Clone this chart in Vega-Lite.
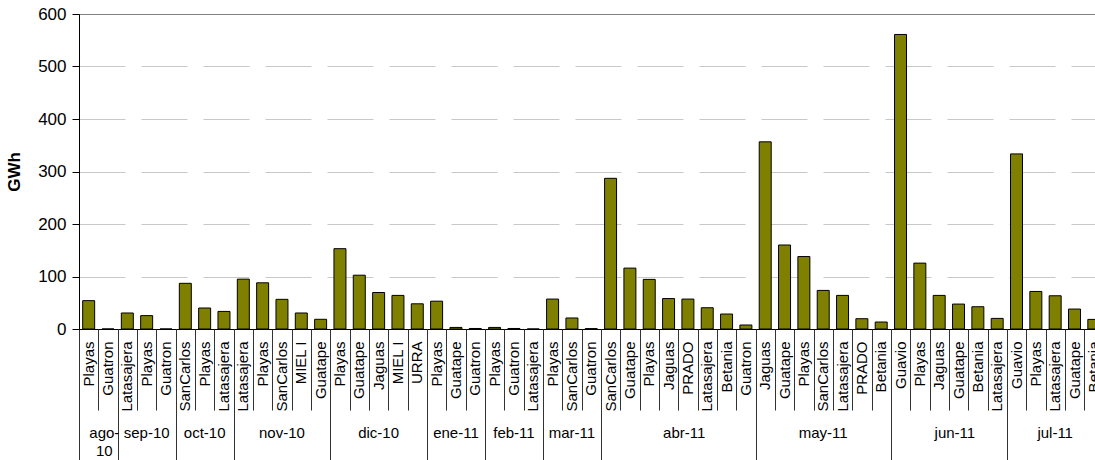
{
  "$schema": "https://vega.github.io/schema/vega-lite/v6.json",
  "width": 1016,
  "height": 315,
  "autosize": {"type": "none"},
  "padding": {"left": 79, "top": 14, "right": 0, "bottom": 131},
  "background": "white",
  "config": {
    "view": {"stroke": null},
    "font": "Liberation Sans",
    "axisX": {"labelFontSize": 15}
  },
  "data": {
    "values": [
      {"k": "01|ago-10|Playas", "month": "ago-10", "plant": "Playas", "gwh": 54},
      {"k": "02|ago-10|Guatron", "month": "ago-10", "plant": "Guatron", "gwh": 0},
      {"k": "03|sep-10|Latasajera", "month": "sep-10", "plant": "Latasajera", "gwh": 30.5},
      {"k": "04|sep-10|Playas", "month": "sep-10", "plant": "Playas", "gwh": 25.5},
      {"k": "05|sep-10|Guatron", "month": "sep-10", "plant": "Guatron", "gwh": 0},
      {"k": "06|oct-10|SanCarlos", "month": "oct-10", "plant": "SanCarlos", "gwh": 87},
      {"k": "07|oct-10|Playas", "month": "oct-10", "plant": "Playas", "gwh": 40},
      {"k": "08|oct-10|Latasajera", "month": "oct-10", "plant": "Latasajera", "gwh": 33.5},
      {"k": "09|nov-10|Latasajera", "month": "nov-10", "plant": "Latasajera", "gwh": 95},
      {"k": "10|nov-10|Playas", "month": "nov-10", "plant": "Playas", "gwh": 88},
      {"k": "11|nov-10|SanCarlos", "month": "nov-10", "plant": "SanCarlos", "gwh": 56.5},
      {"k": "12|nov-10|MIEL I", "month": "nov-10", "plant": "MIEL I", "gwh": 30.5},
      {"k": "13|nov-10|Guatape", "month": "nov-10", "plant": "Guatape", "gwh": 18.5},
      {"k": "14|dic-10|Playas", "month": "dic-10", "plant": "Playas", "gwh": 153},
      {"k": "15|dic-10|Guatape", "month": "dic-10", "plant": "Guatape", "gwh": 102.5},
      {"k": "16|dic-10|Jaguas", "month": "dic-10", "plant": "Jaguas", "gwh": 69.5},
      {"k": "17|dic-10|MIEL I", "month": "dic-10", "plant": "MIEL I", "gwh": 64},
      {"k": "18|dic-10|URRA", "month": "dic-10", "plant": "URRA", "gwh": 48},
      {"k": "19|ene-11|Playas", "month": "ene-11", "plant": "Playas", "gwh": 53},
      {"k": "20|ene-11|Guatape", "month": "ene-11", "plant": "Guatape", "gwh": 3},
      {"k": "21|ene-11|Guatron", "month": "ene-11", "plant": "Guatron", "gwh": 1},
      {"k": "22|feb-11|Playas", "month": "feb-11", "plant": "Playas", "gwh": 3},
      {"k": "23|feb-11|Guatron", "month": "feb-11", "plant": "Guatron", "gwh": 1},
      {"k": "24|feb-11|Latasajera", "month": "feb-11", "plant": "Latasajera", "gwh": 0},
      {"k": "25|mar-11|Playas", "month": "mar-11", "plant": "Playas", "gwh": 57},
      {"k": "26|mar-11|SanCarlos", "month": "mar-11", "plant": "SanCarlos", "gwh": 21},
      {"k": "27|mar-11|Guatron", "month": "mar-11", "plant": "Guatron", "gwh": 0.7},
      {"k": "28|abr-11|SanCarlos", "month": "abr-11", "plant": "SanCarlos", "gwh": 287},
      {"k": "29|abr-11|Guatape", "month": "abr-11", "plant": "Guatape", "gwh": 116},
      {"k": "30|abr-11|Playas", "month": "abr-11", "plant": "Playas", "gwh": 94.5},
      {"k": "31|abr-11|Jaguas", "month": "abr-11", "plant": "Jaguas", "gwh": 58},
      {"k": "32|abr-11|PRADO", "month": "abr-11", "plant": "PRADO", "gwh": 57},
      {"k": "33|abr-11|Latasajera", "month": "abr-11", "plant": "Latasajera", "gwh": 40.5},
      {"k": "34|abr-11|Betania", "month": "abr-11", "plant": "Betania", "gwh": 28.5},
      {"k": "35|abr-11|Guatron", "month": "abr-11", "plant": "Guatron", "gwh": 7.6},
      {"k": "36|may-11|Jaguas", "month": "may-11", "plant": "Jaguas", "gwh": 356.5},
      {"k": "37|may-11|Guatape", "month": "may-11", "plant": "Guatape", "gwh": 160},
      {"k": "38|may-11|Playas", "month": "may-11", "plant": "Playas", "gwh": 138},
      {"k": "39|may-11|SanCarlos", "month": "may-11", "plant": "SanCarlos", "gwh": 73.5},
      {"k": "40|may-11|Latasajera", "month": "may-11", "plant": "Latasajera", "gwh": 64},
      {"k": "41|may-11|PRADO", "month": "may-11", "plant": "PRADO", "gwh": 19.6},
      {"k": "42|may-11|Betania", "month": "may-11", "plant": "Betania", "gwh": 13.3},
      {"k": "43|jun-11|Guavio", "month": "jun-11", "plant": "Guavio", "gwh": 561},
      {"k": "44|jun-11|Playas", "month": "jun-11", "plant": "Playas", "gwh": 125.5},
      {"k": "45|jun-11|Jaguas", "month": "jun-11", "plant": "Jaguas", "gwh": 64},
      {"k": "46|jun-11|Guatape", "month": "jun-11", "plant": "Guatape", "gwh": 47.5},
      {"k": "47|jun-11|Betania", "month": "jun-11", "plant": "Betania", "gwh": 42.4},
      {"k": "48|jun-11|Latasajera", "month": "jun-11", "plant": "Latasajera", "gwh": 20.2},
      {"k": "49|jul-11|Guavio", "month": "jul-11", "plant": "Guavio", "gwh": 333.5},
      {"k": "50|jul-11|Playas", "month": "jul-11", "plant": "Playas", "gwh": 71.5},
      {"k": "51|jul-11|Latasajera", "month": "jul-11", "plant": "Latasajera", "gwh": 63.3},
      {"k": "52|jul-11|Guatape", "month": "jul-11", "plant": "Guatape", "gwh": 38},
      {"k": "53|jul-11|Betania", "month": "jul-11", "plant": "Betania", "gwh": 18.3}
    ]
  },
  "resolve": {"scale": {"x": "shared"}, "axis": {"x": "independent"}},
  "layer": [
    {
      "mark": {"type": "bar", "fill": "#808000", "stroke": "#000000", "strokeWidth": 1},
      "encoding": {
        "x": {
          "field": "k", "type": "nominal", "sort": null,
          "scale": {"range": [0, 1024.5], "paddingInner": 0.38, "paddingOuter": 0.19},
          "axis": {
            "orient": "bottom",
            "title": null, "ticks": false, "tickSize": 0, "labels": false,
            "domain": true, "domainColor": "#000000", "domainWidth": 1, "grid": false
          }
        },
        "y": {
          "field": "gwh", "type": "quantitative",
          "scale": {"domain": [0, 600], "nice": false},
          "axis": {
            "title": "GWh", "titleFontSize": 17, "titleFontWeight": "bold", "titleColor": "#000000", "titlePadding": 14,
            "values": [0, 100, 200, 300, 400, 500, 600],
            "labelFontSize": 17, "labelColor": "#000000", "labelPadding": 6,
            "tickSize": 7, "tickColor": "#000000", "domainColor": "#000000",
            "grid": true,
            "gridColor": {"condition": {"test": "datum.value == 600", "value": "#808080"}, "value": "#c8c8c8"},
            "gridDash": {"condition": {"test": "datum.value == 600", "value": []}, "value": [46, 16]},
            "gridWidth": 1
          }
        }
      }
    },
    {
      "mark": {"type": "tick", "opacity": 0},
      "encoding": {
        "x": {
          "field": "k", "type": "nominal", "sort": null,
          "axis": {
            "orient": "bottom",
            "title": null, "ticks": false, "tickSize": 0, "domain": false, "grid": false,
            "labelExpr": "split(datum.value, '|')[2]",
            "labelAngle": 270, "labelAlign": "right", "labelBaseline": "middle",
            "labelPadding": 12, "labelFontSize": 15, "labelColor": "#000000",
            "labelOverlap": false, "labelBound": false, "labelFlush": false, "labelLimit": 0
          }
        }
      }
    },
    {
      "mark": {"type": "tick", "opacity": 0},
      "encoding": {
        "x": {
          "field": "k", "type": "nominal", "sort": null,
          "axis": {
            "orient": "bottom",
            "title": null, "labels": false, "domain": false, "grid": false,
            "ticks": true, "tickSize": 81, "tickColor": "#333333", "tickWidth": 1,
            "bandPosition": 0, "tickOffset": -3.67, "tickExtra": false
          }
        }
      }
    },
    {
      "mark": {"type": "tick", "opacity": 0},
      "encoding": {
        "x": {
          "field": "k", "type": "nominal", "sort": null,
          "axis": {
            "orient": "bottom",
            "title": null, "labels": false, "domain": false, "grid": false,
            "ticks": true, "tickSize": 131, "tickColor": "#333333", "tickWidth": 1,
            "bandPosition": 0, "tickOffset": -3.67, "tickExtra": false,
            "values": ["01|ago-10|Playas", "03|sep-10|Latasajera", "06|oct-10|SanCarlos", "09|nov-10|Latasajera", "14|dic-10|Playas", "19|ene-11|Playas", "22|feb-11|Playas", "25|mar-11|Playas", "28|abr-11|SanCarlos", "36|may-11|Jaguas", "43|jun-11|Guavio", "49|jul-11|Guavio"]
          }
        }
      }
    },
    {
      "mark": {"type": "tick", "opacity": 0},
      "encoding": {
        "x": {
          "field": "k", "type": "nominal", "sort": null,
          "axis": {
            "orient": "bottom",
            "title": null, "domain": false, "grid": false, "ticks": false, "tickSize": 0,
            "values": ["04|sep-10|Playas", "07|oct-10|Playas", "11|nov-10|SanCarlos", "16|dic-10|Jaguas", "20|ene-11|Guatape", "23|feb-11|Guatron", "26|mar-11|SanCarlos", "39|may-11|SanCarlos", "51|jul-11|Latasajera"],
            "labelExpr": "split(datum.value, '|')[1]",
            "labelAngle": 0, "labelAlign": "center", "labelBaseline": "top",
            "labelPadding": 96, "labelFontSize": 15, "labelColor": "#000000",
            "labelOverlap": false, "labelBound": false, "labelFlush": false, "labelLimit": 0
          }
        }
      }
    },
    {
      "mark": {"type": "tick", "opacity": 0},
      "encoding": {
        "x": {
          "field": "k", "type": "nominal", "sort": null,
          "axis": {
            "orient": "bottom",
            "title": null, "domain": false, "grid": false, "ticks": false, "tickSize": 0,
            "bandPosition": 0, "labelOffset": -3.67,
            "values": ["02|ago-10|Guatron", "32|abr-11|PRADO", "46|jun-11|Guatape"],
            "labelExpr": "split(datum.value, '|')[1] == 'ago-10' ? ['ago-', '10'] : split(datum.value, '|')[1]",
            "labelAngle": 0, "labelAlign": "center", "labelBaseline": "top", "labelLineHeight": 18,
            "labelPadding": 96, "labelFontSize": 15, "labelColor": "#000000",
            "labelOverlap": false, "labelBound": false, "labelFlush": false, "labelLimit": 0
          }
        }
      }
    }
  ]
}
